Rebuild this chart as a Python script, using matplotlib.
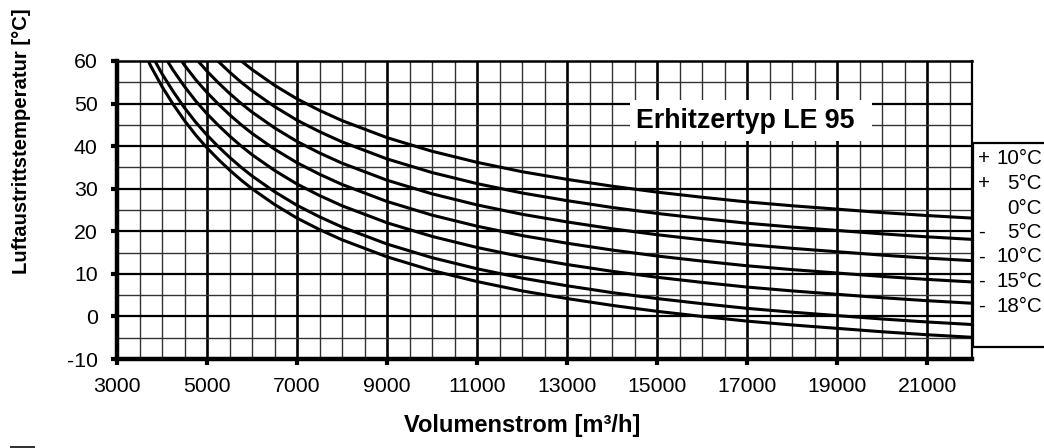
import matplotlib
matplotlib.use("Agg")
import matplotlib.pyplot as plt
from matplotlib.patches import Rectangle

plt.rcParams["font.family"] = ["Liberation Sans", "DejaVu Sans"]
plt.rcParams["axes.unicode_minus"] = False

# Volumenstrom [m3/h]
volumen = [3500, 3750, 4000, 4250, 4500, 4750, 5000, 5250, 5500, 5750, 6000,
           6500, 7000, 7500, 8000, 9000, 10000, 11000, 12000, 13000, 14000,
           15000, 16000, 17000, 18000, 19000, 20000, 21000, 22000]

# Luftaustrittstemperatur [°C] je Lufteintrittstemperatur
t_plus10 = [92.3, 86.8, 82.0, 77.8, 74.0, 70.6, 67.6, 64.9, 62.4, 60.1, 58.0,
            54.3, 51.1, 48.4, 46.0, 42.0, 38.8, 36.2, 34.0, 32.2, 30.6,
            29.2, 28.0, 26.9, 26.0, 25.2, 24.4, 23.7, 23.1]
t_plus5 = [87.3, 81.8, 77.0, 72.8, 69.0, 65.6, 62.6, 59.9, 57.4, 55.1, 53.0,
           49.3, 46.1, 43.4, 41.0, 37.0, 33.8, 31.2, 29.0, 27.2, 25.6,
           24.2, 23.0, 21.9, 21.0, 20.2, 19.4, 18.7, 18.1]
t_null = [82.3, 76.8, 72.0, 67.8, 64.0, 60.6, 57.6, 54.9, 52.4, 50.1, 48.0,
          44.3, 41.1, 38.4, 36.0, 32.0, 28.8, 26.2, 24.0, 22.2, 20.6,
          19.2, 18.0, 16.9, 16.0, 15.2, 14.4, 13.7, 13.1]
t_minus5 = [77.3, 71.8, 67.0, 62.8, 59.0, 55.6, 52.6, 49.9, 47.4, 45.1, 43.0,
            39.3, 36.1, 33.4, 31.0, 27.0, 23.8, 21.2, 19.0, 17.2, 15.6,
            14.2, 13.0, 11.9, 11.0, 10.2, 9.4, 8.7, 8.1]
t_minus10 = [72.3, 66.8, 62.0, 57.8, 54.0, 50.6, 47.6, 44.9, 42.4, 40.1, 38.0,
             34.3, 31.1, 28.4, 26.0, 22.0, 18.8, 16.2, 14.0, 12.2, 10.6,
             9.2, 8.0, 6.9, 6.0, 5.2, 4.4, 3.7, 3.1]
t_minus15 = [67.3, 61.8, 57.0, 52.8, 49.0, 45.6, 42.6, 39.9, 37.4, 35.1, 33.0,
             29.3, 26.1, 23.4, 21.0, 17.0, 13.8, 11.2, 9.0, 7.2, 5.6,
             4.2, 3.0, 1.9, 1.0, 0.2, -0.6, -1.3, -1.9]
t_minus18 = [64.3, 58.8, 54.0, 49.8, 46.0, 42.6, 39.6, 36.9, 34.4, 32.1, 30.0,
             26.3, 23.1, 20.4, 18.0, 14.0, 10.8, 8.2, 6.0, 4.2, 2.6,
             1.2, 0.0, -1.1, -2.0, -2.8, -3.6, -4.3, -4.9]

kurven = [t_plus10, t_plus5, t_null, t_minus5, t_minus10, t_minus15, t_minus18]
vorzeichen = ["+", "+", "", "-", "-", "-", "-"]
eintritt = ["10°C", "5°C", "0°C", "5°C", "10°C", "15°C", "18°C"]

x_ticks = [3000, 5000, 7000, 9000, 11000, 13000, 15000, 17000, 19000, 21000]
y_ticks = [-10, 0, 10, 20, 30, 40, 50, 60]

W, H = 1044, 448
fig = plt.figure(figsize=(W / 100, H / 100), dpi=100)
ax = fig.add_axes([117 / W, 1 - 359 / H, (972 - 117) / W, (359 - 61) / H])

ax.set_xlim(3000, 22000)
ax.set_ylim(-10, 60)

# Raster: fein alle 500 m3/h bzw. 5 K, kraeftig alle 2000 m3/h bzw. 10 K
for xv in range(3500, 22000, 500):
    if (xv - 3000) % 2000 == 0:
        ax.axvline(xv, color="black", lw=1.9, zorder=1)
    else:
        ax.axvline(xv, color="#333333", lw=1.0, zorder=1)
for yv in range(-5, 60, 5):
    if yv % 10 == 0:
        ax.axhline(yv, color="black", lw=1.6, zorder=1)
    else:
        ax.axhline(yv, color="#333333", lw=1.0, zorder=1)

# Typenschild
ax.add_patch(Rectangle((14400, 41.2), 5370, 9.6, facecolor="white",
                       edgecolor="none", zorder=2))
ax.text(16950, 45.8, "Erhitzertyp LE 95", ha="center", va="center",
        fontsize=19.3, fontweight="bold", zorder=3)

for werte in kurven:
    ax.plot(volumen, werte, color="black", lw=2.2, zorder=4,
            solid_capstyle="butt")

ax.set_xticks(x_ticks)
ax.set_yticks(y_ticks)
ax.tick_params(axis="both", labelsize=15.3, length=4, width=3,
               direction="out", colors="black")
ax.tick_params(axis="x", pad=9)
ax.tick_params(axis="y", pad=10)

ax.spines["left"].set_linewidth(3.2)
ax.spines["bottom"].set_linewidth(3.2)
ax.spines["top"].set_linewidth(1.8)
ax.spines["right"].set_linewidth(1.6)
for s in ax.spines.values():
    s.set_zorder(5)

# Legende der Eintrittstemperaturen rechts neben dem Diagramm
fig.patches.append(Rectangle((973 / W, 1 - 347 / H), 90 / W, 204 / H,
                             transform=fig.transFigure, facecolor="white",
                             edgecolor="black", lw=1.6, zorder=5))
for i in range(len(eintritt)):
    yy = 1 - (159 + i * 24.5) / H
    fig.text(978 / W, yy, vorzeichen[i], ha="left", va="center",
             fontsize=14.8, zorder=6)
    fig.text(1042 / W, yy, eintritt[i], ha="right", va="center",
             fontsize=14.8, zorder=6)

fig.text(522 / W, 1 - 425 / H, "Volumenstrom [m³/h]", ha="center",
         va="center", fontsize=17, fontweight="bold")
fig.text(22 / W, 1 - 141 / H, "Luftaustrittstemperatur [°C]", ha="center",
         va="center", rotation=90, fontsize=14.6, fontweight="bold")

# kleine Marke unten links
fig.patches.append(Rectangle((10 / W, 0), 25 / W, 2.5 / H,
                             transform=fig.transFigure, facecolor="#333333",
                             edgecolor="none"))

fig.savefig("out.png", dpi=100)
